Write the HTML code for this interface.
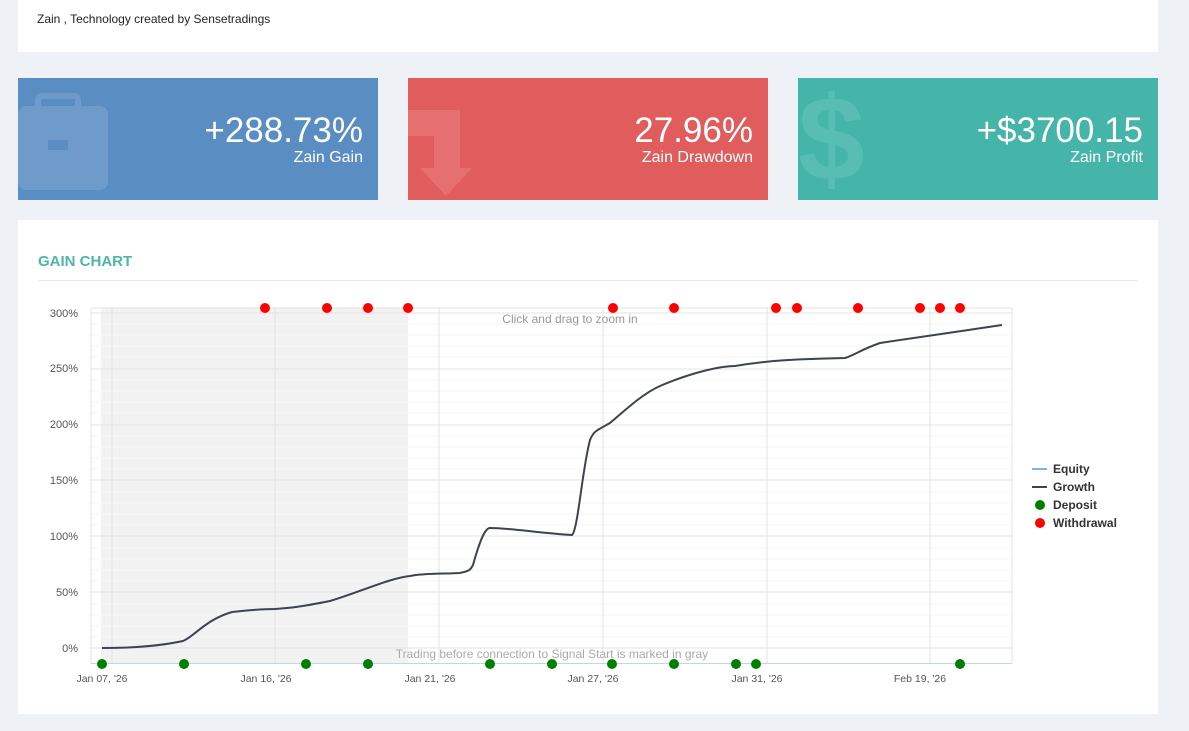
<!DOCTYPE html><html><head><style>
body{margin:0;background:#eef1f6;font-family:"Liberation Sans",sans-serif;width:1189px;height:731px;overflow:hidden;position:relative}
.card{position:absolute;background:#fff}
.box{position:absolute;top:78px;height:122px;width:360px;color:#fff;text-align:right;overflow:hidden}
.box .v{position:absolute;right:15px;top:33px;font-size:35px}
.box .l{position:absolute;right:15px;top:71px;font-size:16px}
</style></head><body>
<div class="card" style="left:18px;top:0;width:1140px;height:52px"><div style="position:absolute;left:19px;top:12px;font-size:12px;color:#222">Zain , Technology created by Sensetradings</div></div>
<div class="box" style="left:18px;background:#5a8dc1">
<svg width="120" height="122" style="position:absolute;left:0;top:0"><rect x="0" y="28" width="90" height="84" rx="8" fill="#6e9bca"/><rect x="20" y="18" width="40" height="16" rx="4" fill="none" stroke="#6e9bca" stroke-width="6"/><rect x="30" y="62" width="20" height="10" fill="#5a8dc1"/></svg>
<div class="v">+288.73%</div><div class="l">Zain Gain</div></div>
<div class="box" style="left:408px;background:#e15c5c">
<svg width="120" height="122" style="position:absolute;left:0;top:0"><path d="M0 32 H52 V90 H64 L38 118 L12 90 H26 V58 H0Z" fill="#e67070"/></svg>
<div class="v">27.96%</div><div class="l">Zain Drawdown</div></div>
<div class="box" style="left:798px;background:#45b5aa">
<div style="position:absolute;left:0;top:-8px;font-size:120px;color:#58beb3;font-weight:bold">$</div>
<div class="v">+$3700.15</div><div class="l">Zain Profit</div></div>
<div class="card" style="left:18px;top:220px;width:1140px;height:494px">
<div style="position:absolute;left:20px;top:33px;font-size:15px;font-weight:bold;color:#4db6a6">GAIN CHART</div>
<div style="position:absolute;left:20px;top:60px;width:1100px;height:1px;background:#e8e8e8"></div></div>
<svg width="1189" height="731" style="position:absolute;left:0;top:0" font-family="Liberation Sans" font-size="11">
<rect x="101" y="308" width="307" height="355" fill="#f2f2f2"/>
<g stroke="#f6f6f6"><path d="M91 324H1012M91 335H1012M91 346H1012M91 357H1012M91 380H1012M91 391H1012M91 402H1012M91 413H1012M91 436H1012M91 447H1012M91 458H1012M91 469H1012M91 492H1012M91 503H1012M91 514H1012M91 525H1012M91 548H1012M91 559H1012M91 570H1012M91 581H1012M91 604H1012M91 615H1012M91 626H1012M91 637H1012"/></g>
<g stroke="#e3e3e3"><path d="M91 313H1012M91 369H1012M91 425H1012M91 480H1012M91 536H1012M91 592H1012M91 648H1012M112 308V663M275 308V663M439 308V663M603 308V663M767 308V663M930 308V663M91 308V663M91 308H1012M1012 308V663"/></g>
<path d="M91 663.5H1012" stroke="#c5d3e6"/>
<g fill="#555" text-anchor="end"><text x="78" y="317">300%</text><text x="78" y="372">250%</text><text x="78" y="428">200%</text><text x="78" y="484">150%</text><text x="78" y="540">100%</text><text x="78" y="596">50%</text><text x="78" y="652">0%</text></g>
<g fill="#555" text-anchor="middle" font-size="10.5"><text x="102" y="682">Jan 07, '26</text><text x="266" y="682">Jan 16, '26</text><text x="430" y="682">Jan 21, '26</text><text x="593" y="682">Jan 27, '26</text><text x="757" y="682">Jan 31, '26</text><text x="920" y="682">Feb 19, '26</text></g>
<text x="570" y="323" fill="#999" text-anchor="middle" font-size="12">Click and drag to zoom in</text>
<text x="552" y="658" fill="#aaa" text-anchor="middle" font-size="12">Trading before connection to Signal Start is marked in gray</text>
<path d="M102 648 C130 648 160 646 183 641 C195 636 205 620 232 612 C250 610 262 609 275 609 C290 608 300 607 330 601 C360 592 390 578 410 576 C425 573 445 574 460 573 C468 571 470 571 473 565 C480 540 485 528 490 528 C510 528 540 533 572 535 C578 530 582 470 590 440 C594 430 598 430 610 423 C620 415 640 395 660 386 C690 373 720 366 735 366 C770 360 800 359 845 358 C855 355 860 350 880 343 C930 336 960 331 1002 325" fill="none" stroke="#3d4350" stroke-width="2"/>
<g fill="red"><circle cx="265" cy="308" r="5"/><circle cx="327" cy="308" r="5"/><circle cx="368" cy="308" r="5"/><circle cx="408" cy="308" r="5"/><circle cx="613" cy="308" r="5"/><circle cx="674" cy="308" r="5"/><circle cx="776" cy="308" r="5"/><circle cx="797" cy="308" r="5"/><circle cx="858" cy="308" r="5"/><circle cx="920" cy="308" r="5"/><circle cx="940" cy="308" r="5"/><circle cx="960" cy="308" r="5"/></g>
<g fill="green"><circle cx="102" cy="664" r="5"/><circle cx="184" cy="664" r="5"/><circle cx="306" cy="664" r="5"/><circle cx="368" cy="664" r="5"/><circle cx="490" cy="664" r="5"/><circle cx="552" cy="664" r="5"/><circle cx="612" cy="664" r="5"/><circle cx="674" cy="664" r="5"/><circle cx="736" cy="664" r="5"/><circle cx="756" cy="664" r="5"/><circle cx="960" cy="664" r="5"/></g>
<g font-size="12" font-weight="bold" fill="#333"><path d="M1032 469H1047" stroke="#7cb5ec" stroke-width="2"/><text x="1053" y="473">Equity</text>
<path d="M1032 487H1047" stroke="#3d4350" stroke-width="2"/><text x="1053" y="491">Growth</text>
<circle cx="1040" cy="505" r="5" fill="green"/><text x="1053" y="509">Deposit</text>
<circle cx="1040" cy="523" r="5" fill="red"/><text x="1053" y="527">Withdrawal</text></g>
</svg>
</body></html>
